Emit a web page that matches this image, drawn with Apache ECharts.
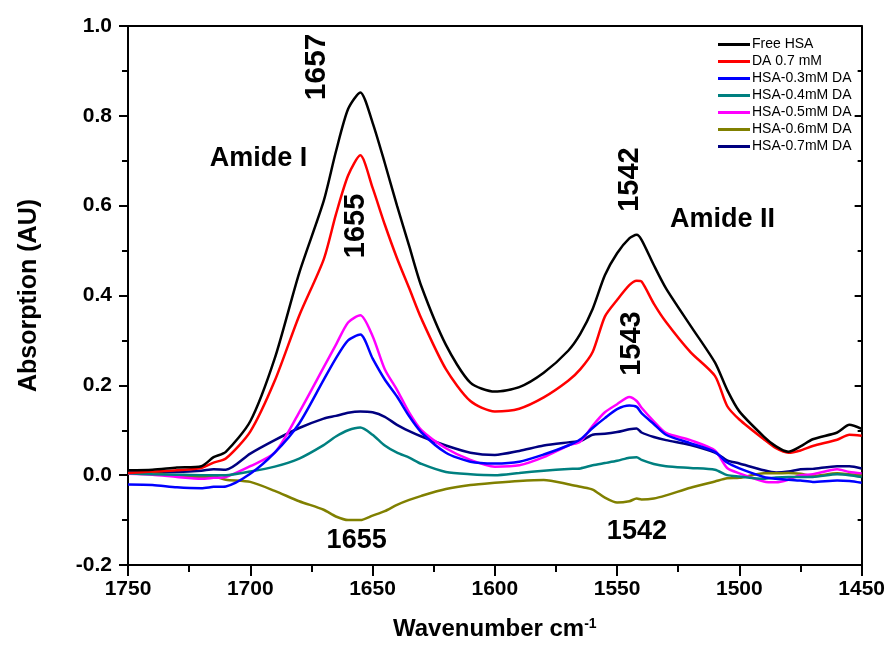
<!DOCTYPE html>
<html>
<head>
<meta charset="utf-8">
<title>FTIR Amide I / II</title>
<script src="https://cdn.jsdelivr.net/npm/echarts@6/dist/echarts.min.js"></script>
<style>
  html, body { margin: 0; padding: 0; background: #fff; }
  #chart { width: 888px; height: 650px; }
</style>
</head>
<body>
<div id="chart"></div>
<script>
// wavenumber grid (cm-1) shared by all spectra
const wavenumbers = [1750, 1740, 1730, 1720, 1715, 1710, 1700, 1690, 1680, 1670, 1665, 1660, 1655, 1650,
  1645, 1640, 1635, 1630, 1620, 1610, 1600, 1590, 1580, 1570, 1565, 1560, 1555, 1550, 1545, 1542, 1540,
  1535, 1530, 1520, 1510, 1505, 1500, 1490, 1485, 1480, 1475, 1470, 1460, 1455, 1450];

const freeHSA = [0.011, 0.012, 0.017, 0.02, 0.04, 0.052, 0.12, 0.26, 0.45, 0.61, 0.72, 0.815, 0.852, 0.785,
  0.695, 0.6, 0.51, 0.42, 0.29, 0.206, 0.186, 0.196, 0.228, 0.277, 0.315, 0.37, 0.445, 0.494, 0.527, 0.535, 0.524,
  0.468, 0.416, 0.333, 0.251, 0.19, 0.142, 0.086, 0.064, 0.052, 0.064, 0.08, 0.095, 0.112, 0.103];

const da07 = [0.005, 0.008, 0.011, 0.016, 0.028, 0.037, 0.097, 0.21, 0.355, 0.48, 0.58, 0.667, 0.712, 0.64,
  0.558, 0.483, 0.416, 0.348, 0.236, 0.165, 0.142, 0.148, 0.173, 0.21, 0.236, 0.274, 0.353, 0.39, 0.423, 0.433, 0.431,
  0.382, 0.341, 0.274, 0.221, 0.154, 0.124, 0.08, 0.06, 0.05, 0.055, 0.065, 0.079, 0.09, 0.088];

const hsa03 = [-0.021, -0.022, -0.027, -0.029, -0.026, -0.025, 0.003, 0.05, 0.115, 0.212, 0.26, 0.3, 0.313, 0.26,
  0.213, 0.175, 0.131, 0.095, 0.05, 0.03, 0.026, 0.03, 0.046, 0.066, 0.08, 0.105, 0.127, 0.147, 0.155, 0.152, 0.138,
  0.114, 0.09, 0.071, 0.052, 0.028, 0.015, -0.004, -0.008, -0.01, -0.012, -0.015, -0.012, -0.013, -0.017];

const hsa04 = [0.004, 0.002, 0.001, 0.0, 0.0, 0.0, 0.008, 0.019, 0.037, 0.067, 0.086, 0.1, 0.106, 0.09,
  0.066, 0.05, 0.039, 0.025, 0.007, 0.002, 0.0, 0.005, 0.01, 0.014, 0.015, 0.022, 0.027, 0.032, 0.039, 0.04, 0.034,
  0.025, 0.02, 0.016, 0.012, 0.0, -0.003, -0.008, -0.005, -0.004, -0.004, -0.004, 0.002, 0.0, -0.004];

const hsa05 = [0.003, 0.001, -0.004, -0.008, -0.006, -0.004, 0.02, 0.05, 0.14, 0.24, 0.29, 0.34, 0.356, 0.31,
  0.236, 0.19, 0.139, 0.1, 0.06, 0.034, 0.019, 0.022, 0.04, 0.066, 0.075, 0.11, 0.14, 0.158, 0.174, 0.165, 0.15,
  0.12, 0.094, 0.078, 0.055, 0.016, 0.004, -0.014, -0.016, -0.01, 0.0, 0.002, 0.013, 0.007, 0.004];

const hsa06 = [0.004, 0.004, -0.002, -0.004, -0.003, -0.01, -0.015, -0.035, -0.058, -0.077, -0.092, -0.1, -0.1, -0.09,
  -0.08, -0.066, -0.055, -0.046, -0.031, -0.022, -0.017, -0.013, -0.011, -0.02, -0.026, -0.032, -0.05, -0.061, -0.058, -0.052, -0.054,
  -0.052, -0.045, -0.028, -0.014, -0.007, -0.006, 0.004, 0.004, 0.005, 0.003, -0.002, 0.004, 0.002, 0.0];

const hsa07 = [0.006, 0.006, 0.007, 0.01, 0.013, 0.012, 0.048, 0.078, 0.105, 0.126, 0.132, 0.139, 0.142, 0.14,
  0.13, 0.112, 0.098, 0.086, 0.066, 0.05, 0.045, 0.054, 0.066, 0.073, 0.076, 0.09, 0.092, 0.096, 0.102, 0.104, 0.095,
  0.085, 0.078, 0.067, 0.05, 0.033, 0.026, 0.011, 0.006, 0.008, 0.013, 0.014, 0.02, 0.02, 0.015];

const seriesNames = ['Free HSA', 'DA 0.7 mM', 'HSA-0.3mM DA', 'HSA-0.4mM DA', 'HSA-0.5mM DA', 'HSA-0.6mM DA', 'HSA-0.7mM DA'];
const seriesValues = [freeHSA, da07, hsa03, hsa04, hsa05, hsa06, hsa07];
const seriesColors = ['#000000', '#ff0000', '#0000ff', '#008080', '#ff00ff', '#808000', '#000080'];

// peak annotations, placed in data units (wavenumber, absorption)
const annotations = [
  { text: '1657', wn: 1673, abs: 0.909, rotate: true, size: 30 },
  { text: '1655', wn: 1656.7, abs: 0.555, rotate: true, size: 29 },
  { text: '1542', wn: 1544.8, abs: 0.658, rotate: true, size: 29 },
  { text: '1543', wn: 1543.8, abs: 0.293, rotate: true, size: 29 },
  { text: 'Amide I', wn: 1696.6, abs: 0.706, rotate: false, size: 27 },
  { text: 'Amide II', wn: 1506.9, abs: 0.568, rotate: false, size: 27 },
  { text: '1655', wn: 1656.5, abs: -0.145, rotate: false, size: 27 },
  { text: '1542', wn: 1541.9, abs: -0.126, rotate: false, size: 27 }
];

const FONT = '"Liberation Sans", Arial, sans-serif';
const AXIS_LINE = { color: '#000', width: 2 };

const chart = echarts.init(document.getElementById('chart'));

const series = seriesNames.map((name, i) => ({
  name: name,
  type: 'line',
  data: wavenumbers.map((w, j) => [w, seriesValues[i][j]]),
  showSymbol: false,
  symbol: 'none',
  smooth: 0.25,
  lineStyle: { color: seriesColors[i], width: 2.5 },
  itemStyle: { color: seriesColors[i] },
  z: 10 - i
}));

const option = {
  animation: false,
  backgroundColor: '#fff',
  grid: { left: 128, right: 26, top: 26, bottom: 85, containLabel: false },
  legend: {
    orient: 'vertical',
    left: 713,
    top: 31,
    icon: 'rect',
    itemWidth: 32,
    itemHeight: 3,
    itemGap: 0,
    itemStyle: { borderWidth: 0 },
    textStyle: { fontFamily: FONT, fontSize: 14, color: '#000', lineHeight: 17, padding: [0, 0, 0, -3] },
    data: seriesNames
  },
  xAxis: [{
    // main bottom axis: labels and major ticks
    type: 'value',
    min: 1450,
    max: 1750,
    interval: 50,
    inverse: true,
    position: 'bottom',
    name: '{b|Wavenumber cm}{s|-1}',
    nameLocation: 'middle',
    nameGap: 52,
    nameTextStyle: {
      rich: {
        b: { fontFamily: FONT, fontSize: 24, fontWeight: 'bold', color: '#000' },
        s: { fontFamily: FONT, fontSize: 14, fontWeight: 'bold', color: '#000', verticalAlign: 'top' }
      }
    },
    axisLine: { show: true, onZero: false, lineStyle: AXIS_LINE },
    axisTick: { show: true, length: 11, lineStyle: AXIS_LINE },
    axisLabel: {
      fontFamily: FONT, fontSize: 21, fontWeight: 'bold', color: '#000', margin: 14,
      formatter: v => String(v)
    },
    splitLine: { show: false }
  }, {
    // minor ticks every 25 cm-1
    type: 'value',
    min: 1450,
    max: 1750,
    interval: 25,
    inverse: true,
    position: 'bottom',
    axisLine: { show: false, onZero: false },
    axisTick: { show: true, length: 7, lineStyle: AXIS_LINE },
    axisLabel: { show: false },
    splitLine: { show: false }
  }, {
    // top frame line
    type: 'value',
    min: 1450,
    max: 1750,
    interval: 50,
    inverse: true,
    position: 'top',
    axisLine: { show: true, onZero: false, lineStyle: AXIS_LINE },
    axisTick: { show: false },
    axisLabel: { show: false },
    splitLine: { show: false }
  }],
  yAxis: [{
    type: 'value',
    min: -0.2,
    max: 1.0,
    interval: 0.2,
    position: 'left',
    name: 'Absorption (AU)',
    nameLocation: 'middle',
    nameGap: 86,
    nameTextStyle: { fontFamily: FONT, fontSize: 25, fontWeight: 'bold', color: '#000' },
    axisLine: { show: true, onZero: false, lineStyle: AXIS_LINE },
    axisTick: { show: true, length: 9, lineStyle: AXIS_LINE },
    minorTick: { show: true, splitNumber: 2, length: 6, lineStyle: AXIS_LINE },
    axisLabel: {
      fontFamily: FONT, fontSize: 21, fontWeight: 'bold', color: '#000', margin: 16,
      formatter: v => v.toFixed(1)
    },
    splitLine: { show: false }
  }, {
    type: 'value',
    min: -0.2,
    max: 1.0,
    interval: 0.2,
    position: 'right',
    axisLine: { show: true, onZero: false, lineStyle: AXIS_LINE },
    axisTick: { show: true, inside: true, length: 7, lineStyle: AXIS_LINE },
    minorTick: { show: true, splitNumber: 2, length: 4, lineStyle: AXIS_LINE },
    axisLabel: { show: false },
    splitLine: { show: false }
  }],
  series: series
};

chart.setOption(option);

// Place the peak labels through the chart's own coordinate system
const graphics = annotations.map(a => {
  const p = chart.convertToPixel({ xAxisIndex: 0, yAxisIndex: 0 }, [a.wn, a.abs]);
  return {
    type: 'text',
    x: p[0],
    y: p[1],
    rotation: a.rotate ? Math.PI / 2 : 0,
    z: 100,
    style: {
      text: a.text,
      fontFamily: FONT,
      fontSize: a.size,
      fontWeight: 'bold',
      fill: '#000',
      align: 'center',
      verticalAlign: 'middle'
    }
  };
});

chart.setOption({ graphic: graphics });

window.addEventListener('resize', () => chart.resize());
</script>
</body>
</html>
